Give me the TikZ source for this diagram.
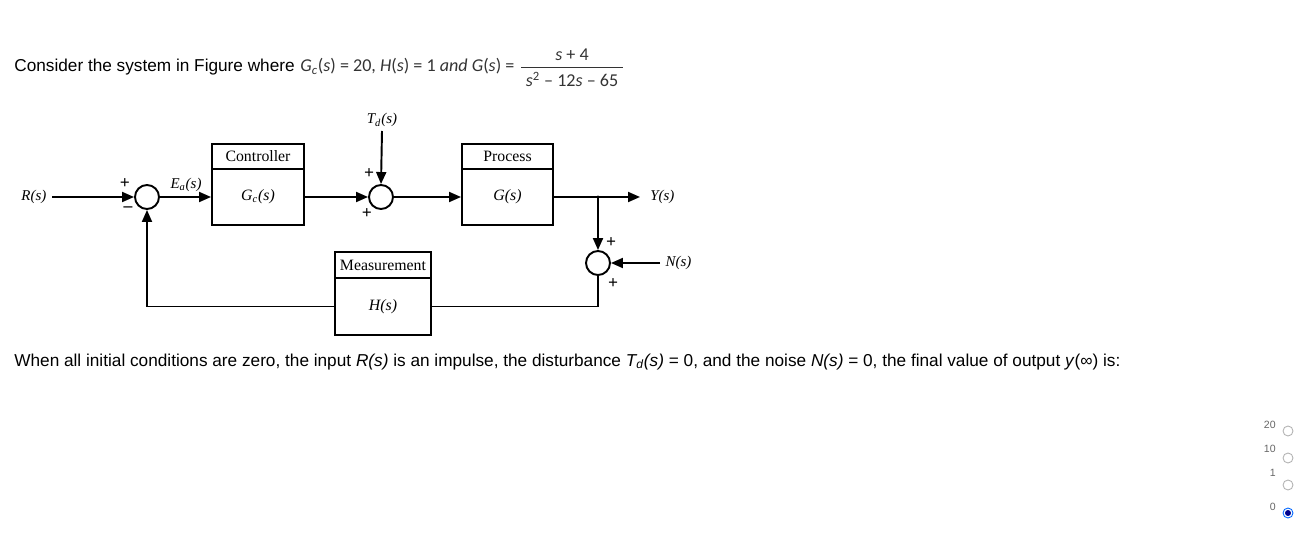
\documentclass[tikz,border=0pt]{standalone}
\usepackage{fontspec}
\setmainfont{Liberation Serif}
\newfontfamily\qfont{Liberation Sans}
\newfontfamily\formfont{Carlito}
\usetikzlibrary{arrows.meta, positioning}

\begin{document}
\begin{tikzpicture}[x=0.02cm, y=-0.02cm,
  sig/.style={line width=1.1pt, -{Triangle[length=2.4mm,width=2mm]}},
  wire/.style={line width=1.1pt},
  headbox/.style={draw, line width=1.1pt, minimum height=0.5cm, inner sep=0pt, font=\fontsize{9}{10}\selectfont},
  bodybox/.style={draw, line width=1.1pt, minimum height=1.12cm, inner sep=0pt, font=\fontsize{9}{10}\selectfont\itshape},
  sumnode/.style={draw, circle, line width=1.1pt, minimum size=0.48cm, inner sep=0pt},
  lbl/.style={font=\fontsize{8.5}{10}\selectfont\itshape, inner sep=3pt},
  sgn/.style={font=\fontsize{10}{11}\selectfont\bfseries, inner sep=0pt},
  qtext/.style={font=\qfont\fontsize{9.8}{11}\selectfont, anchor=base west, inner sep=0pt},
  ftext/.style={font=\formfont\fontsize{10.3}{12}\selectfont, text=black!80, inner sep=0pt},
  radio/.style={draw=gray!60, circle, minimum size=0.2cm, inner sep=0pt, line width=0.5pt},
  optlbl/.style={font=\qfont\fontsize{6}{7}\selectfont, text=gray!80!black, inner sep=0pt},
  ]
\useasboundingbox (0,0) rectangle (1311,547);

% question text
\node [qtext] (q1) at (14,72) {Consider the system in Figure where};
\node [ftext, anchor=base west] (fpre) at (300,72)
  {\textit{G}\textsubscript{\textit{c}}(\textit{s}) = 20, \textit{H}(\textit{s}) = 1 \textit{and G}(\textit{s}) =};
\node [ftext, anchor=base] (fnum) at (572,61) {\textit{s} + 4};
\node [ftext, anchor=base] (fden) at (572,87) {\textit{s}\textsuperscript{2} – 12\textit{s} – 65};
\draw [line width=0.5pt, black!80] (521,67) -- (623,67);

% blocks
\node [headbox, minimum width=1.84cm] (ctrlhead) at (258,156.5) {Controller};
\node [bodybox, minimum width=1.84cm] (ctrl) at (258,197) {G\textsubscript{c}(s)};
\node [headbox, minimum width=1.82cm] (prochead) at (507.5,156.5) {Process};
\node [bodybox, minimum width=1.82cm] (proc) at (507.5,197) {G(s)};
\node [headbox, minimum width=1.92cm, minimum height=0.52cm] (meashead) at (383,265) {Measurement};
\node [bodybox, minimum width=1.92cm, minimum height=1.14cm] (meas) at (383,306.5) {H(s)};

% summing junctions
\node [sumnode] (sum1) at (147,197) {};
\node [sumnode] (sum2) at (381,197) {};
\node [sumnode] (sum3) at (598,263) {};

% signal labels
\node [lbl, anchor=east] (rlab) at (52,197) {R(s)};
\node [lbl] (ealab) at (186,185) {E\textsubscript{a}(s)};
\node [lbl, anchor=south, inner sep=2pt] (tdlab) at (382,131) {T\textsubscript{d}(s)};
\coordinate (yend) at (640,197);
\node [lbl, anchor=west, inner sep=0pt] (ylab) at (650,197) {Y(s)};
\node [lbl, anchor=west] (nlab) at (660,263) {N(s)};
\coordinate (branch) at (598,197);

% signs
\node [sgn] at (125,184) {+};
\node [sgn] at (128,209) {--};
\node [sgn] at (369,174) {+};
\node [sgn] at (367,214) {+};
\node [sgn] at (611,243) {+};
\node [sgn] at (613,284) {+};

% connections
\draw [sig] (rlab.east) -- (sum1.west);
\draw [sig] (sum1.east) -- (ctrl.west);
\draw [sig] (ctrl.east) -- (sum2.west);
\draw [sig] (tdlab.south) -- (sum2.north);
\draw [sig] (sum2.east) -- (proc.west);
\draw [sig] (proc.east) -- (yend);
\fill (branch) circle (1.6);
\draw [sig] (branch) -- (sum3.north);
\draw [sig] (nlab.west) -- (sum3.east);
\draw [wire] (sum3.south) |- (meas.east);
\draw [sig] (meas.west) -| (sum1.south);

% second question line
\node [qtext] (q2) at (14,366) {When all initial conditions are zero, the input \textit{R(s)} is an impulse, the disturbance \textit{T\textsubscript{d}(s)} = 0, and the noise \textit{N(s)} = 0, the final value of output \textit{y}(∞) is:};

% answer options
\node [optlbl, anchor=base east] (l20) at (1276,428) {20};
\node [optlbl, anchor=base east] (l10) at (1276,452) {10};
\node [optlbl, anchor=base east] (l1) at (1276,476) {1};
\node [optlbl, anchor=base east] (l0) at (1276,510) {0};
\node [radio] (opt20) at (1288,431) {};
\node [radio] (opt10) at (1288,458) {};
\node [radio] (opt1) at (1288,485) {};
\node [radio, draw=blue!60!cyan] (opt0) at (1288,513) {};
\fill [blue!55!black] (opt0.center) circle (3);
\end{tikzpicture}
\end{document}
